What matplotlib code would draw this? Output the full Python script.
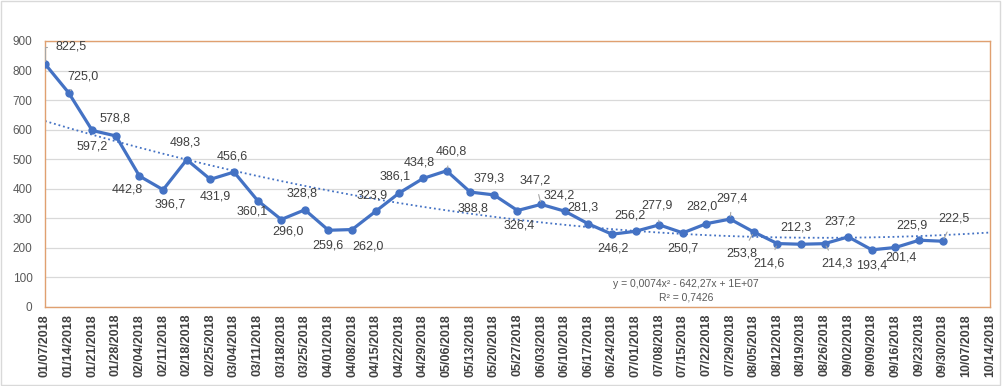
import numpy as np
import matplotlib
matplotlib.use("Agg")
import matplotlib.pyplot as plt
from matplotlib.patches import Rectangle

# --- data ---
weeks = ["01/07/2018", "01/14/2018", "01/21/2018", "01/28/2018", "02/04/2018",
         "02/11/2018", "02/18/2018", "02/25/2018", "03/04/2018", "03/11/2018",
         "03/18/2018", "03/25/2018", "04/01/2018", "04/08/2018", "04/15/2018",
         "04/22/2018", "04/29/2018", "05/06/2018", "05/13/2018", "05/20/2018",
         "05/27/2018", "06/03/2018", "06/10/2018", "06/17/2018", "06/24/2018",
         "07/01/2018", "07/08/2018", "07/15/2018", "07/22/2018", "07/29/2018",
         "08/05/2018", "08/12/2018", "08/19/2018", "08/26/2018", "09/02/2018",
         "09/09/2018", "09/16/2018", "09/23/2018", "09/30/2018", "10/07/2018",
         "10/14/2018"]

values = [822.5, 725.0, 597.2, 578.8, 442.8, 396.7, 498.3, 431.9, 456.6, 360.1,
          296.0, 328.8, 259.6, 262.0, 323.9, 386.1, 434.8, 460.8, 388.8, 379.3,
          326.4, 347.2, 324.2, 281.3, 246.2, 256.2, 277.9, 250.7, 282.0, 297.4,
          253.8, 214.6, 212.3, 214.3, 237.2, 193.4, 201.4, 225.9, 222.5]

trend_eq = "y = 0,0074x² - 642,27x + 1E+07"
trend_r2 = "R² = 0,7426"

# label offsets in pixels (dx, dy) and which labels get a leader line
label_off = [(26, 17), (14, 16), (0, -16), (-1, 17), (-12, -13), (7, -15), (-1, 17),
             (5, -17), (-2, 16), (-5, -11), (7, -12), (-3, 16), (-1, -15), (16, -17),
             (-4, 16), (-4, 16), (-4, 16), (5, 19), (3, -16), (-5, 16), (2, -15),
             (-6, 24), (-6, 16), (-5, 16), (1, -14), (-6, 16), (-2, 19), (0, -16),
             (-5, 17), (2, 21), (-12, -22), (-8, -20), (-5, 17), (12, -20), (-8, 15),
             (0, -16), (6, -10), (-7, 15), (11, 23)]
leaders = {0, 1, 17, 21, 26, 29, 30, 31, 33, 38}

blue = "#4472C4"
txt = "#404040"
plt.rcParams["font.family"] = ["Liberation Sans", "DejaVu Sans"]

fig = plt.figure(figsize=(10.02, 3.86), dpi=100)
ax = fig.add_axes([0.0449, 0.2047, 0.9431, 0.6891])

x = np.arange(len(values))
xt = np.arange(len(weeks))

ax.plot(x, values, color=blue, lw=2.3, marker="o", ms=5, zorder=3)

# polynomial (order 2) trendline like Excel's
coef = np.polyfit(x, values, 2)
ax.plot(xt, np.polyval(coef, xt), color=blue, lw=1.3, ls=(0, (1, 1.6)), zorder=2)

for i, v in enumerate(values):
    dx, dy = label_off[i]
    lbl = f"{v:.1f}".replace(".", ",")
    ap = None
    if i in leaders:
        cs = "angle,angleA=0,angleB=90,rad=0" if i == 0 else "arc3"
        ap = dict(arrowstyle="-", color="#A6A6A6", lw=0.8, shrinkA=4, shrinkB=2,
                  connectionstyle=cs)
    ax.annotate(lbl, (i, v), xytext=(dx, dy), textcoords="offset pixels",
                ha="center", va="center", fontsize=9, color=txt,
                arrowprops=ap, zorder=4)

ax.text(0.678, 0.087, trend_eq, transform=ax.transAxes, ha="center", va="center",
        fontsize=7.5, color="#595959")
ax.text(0.678, 0.034, trend_r2, transform=ax.transAxes, ha="center", va="center",
        fontsize=7.5, color="#595959")

ax.set_xlim(0, len(weeks) - 1)
ax.set_ylim(0, 900)
ax.set_yticks(range(0, 901, 100))
ax.set_xticks(xt)
ax.set_xticklabels(weeks, rotation=90, fontsize=9, fontweight="bold", color="#404040")
ax.tick_params(axis="y", labelsize=8.5, labelcolor="#595959", length=0, pad=9)
ax.tick_params(axis="x", length=0, pad=5)
ax.grid(axis="y", color="#D9D9D9", lw=0.9)
ax.set_axisbelow(True)
for s in ax.spines.values():
    s.set_color("#E0A070")
    s.set_linewidth(1.0)

# outer chart border
fig.patches.append(Rectangle((0.001, 0.002), 0.997, 0.995, transform=fig.transFigure,
                             fill=False, ec="#D9D9D9", lw=1))

fig.savefig("out.png", dpi=100)
